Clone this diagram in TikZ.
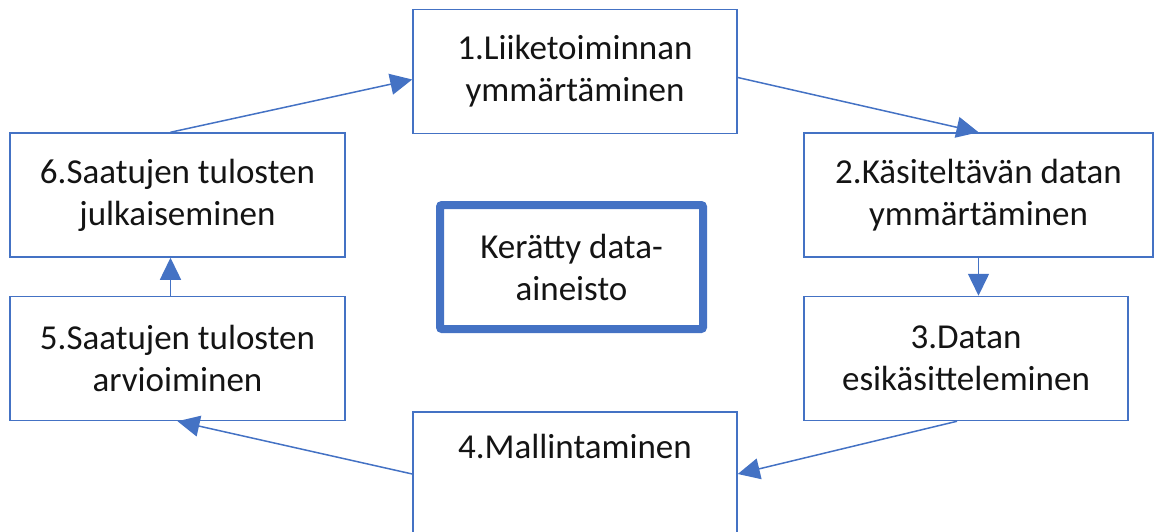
\documentclass[tikz,border=0pt]{standalone}
\usepackage{fontspec}
\setmainfont{Carlito}
\usetikzlibrary{arrows.meta,calc}
\definecolor{obl}{HTML}{4472C4}
\definecolor{txt}{HTML}{141414}
\begin{document}
\begin{tikzpicture}[x=1pt,y=-1pt,
  box/.style={draw=obl,line width=1.5pt,fill=white,minimum width=#1,minimum height=124pt,
    inner sep=0pt,align=center,font=\fontsize{35}{42}\selectfont,text=txt},
  hub/.style={draw=obl,line width=8pt,rounded corners=2pt,minimum width=263pt,minimum height=124pt,
    inner sep=0pt,align=center,font=\fontsize{35}{42}\selectfont,text=txt},
  conn/.style={draw=obl,line width=1.5pt,-{Triangle[length=22pt,width=21pt]}},
  ]
\useasboundingbox (0,0) rectangle (1155,532);
\node[box=324pt] (b1) at (575,71.5) {1.Liiketoiminnan\\ymmärtäminen};
\node[box=349pt] (b2) at (978.5,195) {2.Käsiteltävän datan\\ymmärtäminen};
\node[box=324pt] (b3) at (966,358.5) {3.Datan\\esikäsitteleminen};
\node[box=324pt] (b4) at (575,474) {4.Mallintaminen\\\strut};
\node[box=335pt] (b5) at (177.5,358.5) {5.Saatujen tulosten\\arvioiminen};
\node[box=335pt] (b6) at (177.5,195) {6.Saatujen tulosten\\julkaiseminen};
\node[hub] (c) at (571.5,267) {Kerätty data-\\aineisto};
\draw[conn] ([xshift=-7pt]b6.north) -- ([yshift=-8pt]b1.west);
\draw[conn] ([yshift=-6pt]b1.east) -- (b2.north);
\draw[conn] (b2.south) -- (b2.south |- b3.north);
\draw[conn] ([xshift=-9pt]b3.south) -- (b4.east);
\draw[conn] (b4.west) -- (b5.south);
\draw[conn] ([xshift=-7pt]b5.north) -- ([xshift=-7pt]b6.south);
\end{tikzpicture}
\end{document}
